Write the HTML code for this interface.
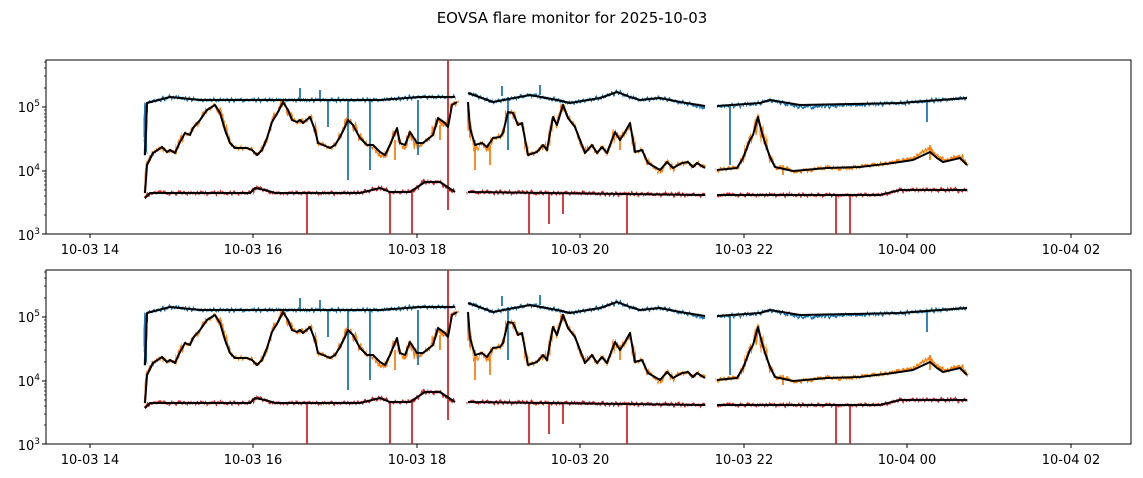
<!DOCTYPE html>
<html><head><style>body{margin:0;background:#fff}svg{display:block}</style></head><body>
<svg width="1143" height="478" xmlns="http://www.w3.org/2000/svg" font-family="DejaVu Sans, Liberation Sans, sans-serif">
<defs>
<filter id="jit" x="-5%" y="-20%" width="110%" height="140%">
<feTurbulence type="fractalNoise" baseFrequency="0.45 0.02" numOctaves="2" seed="3" result="t"/>
<feDisplacementMap in="SourceGraphic" in2="t" scale="8" xChannelSelector="B" yChannelSelector="R"/>
</filter>
<g id="panel">
<rect x="46" y="60" width="1085" height="174" fill="none" stroke="#000" stroke-width="1"/>
<g fill="none" stroke-linejoin="round">
<g filter="url(#jit)" stroke-width="2.6">
<polyline stroke="#1f77b4" points="145,155 147,103 170,97 200,100 300,100 380,100 420,97 455,97"/>
<polyline stroke="#1f77b4" points="468,93 493,102 530,95 557,100 570,103 600,98 617,92 630,97 640,100 660,98 680,102 705,108"/>
<polyline stroke="#1f77b4" points="717,107 760,103 770,100 800,107 900,103 967,98"/>
<polyline stroke="#ff7f0e" points="145,193 147,165 153,153 162,147 167,152 170,150 175,153 180,142 185,133 190,135 193,128 200,120 207,110 215,105 220,113 225,130 230,143 235,148 240,148 247,148 252,150 257,155 262,150 267,138 272,122 278,112 283,102 288,110 292,120 297,122 300,120 303,123 310,117 315,130 318,143 323,145 330,148 335,145 340,137 345,127 348,120 353,125 360,138 367,145 373,148 380,155 385,157 390,145 397,128 400,143 405,148 410,132 417,148 423,143 433,135 438,118 445,127 448,127 452,105 457,102"/>
<polyline stroke="#ff7f0e" points="468,102 470,128 475,150 482,143 487,150 493,138 500,137 503,133 508,112 513,113 518,125 522,123 528,155 537,152 543,145 547,150 553,117 557,125 563,105 568,118 575,127 585,153 592,145 597,153 602,147 607,153 615,132 620,140 625,132 630,123 635,152 642,150 648,163 660,172 667,162 673,170 682,163 688,162 693,167 697,163 705,168"/>
<polyline stroke="#ff7f0e" points="717,170 737,168 743,158 750,140 753,135 758,117 762,133 765,143 770,157 775,167 793,171 827,168 860,167 893,162 913,158 930,148 937,156 943,160 960,156 967,165"/>
<polyline stroke="#d62728" points="145,198 150,193 250,193 255,188 265,190 275,193 360,193 380,188 390,192 410,192 425,182 440,182 455,192"/>
<polyline stroke="#d62728" points="468,192 705,195"/>
<polyline stroke="#d62728" points="717,195 880,195 900,190 967,190"/>
</g>
<g stroke="#1f77b4" stroke-width="1.8"><path d="M328,100V127M348,100V180M370,100V170M418,100V155M508,97V150M730,105V165M927,102V122M300,100V88M320,99V90M540,95V85M502,96V86"/></g>
<g stroke="#ff7f0e" stroke-width="1.8"><path d="M395,140V160M440,125V140M475,140V170M490,145V165M620,135V150M783,165V175M930,145V160"/></g>
<g stroke="#d62728" stroke-width="1.8"><path d="M307,193V234M390,192V234M412,192V234M529,194V234M549,194V224M563,194V214M627,195V234M836,195V234M850,195V234M448,60V210"/></g>
<g stroke="#000" stroke-width="2">
<polyline points="145,155 147,103 170,97 200,100 300,100 380,100 420,97 455,97"/>
<polyline points="468,93 493,102 530,95 557,100 570,103 600,98 617,92 630,97 640,100 660,98 680,102 705,106"/>
<polyline points="717,106 760,103 770,100 800,105 900,103 967,98"/>
<polyline points="145,193 147,165 153,153 162,147 167,152 170,150 175,153 180,142 185,133 190,135 193,128 200,120 207,110 215,105 220,113 225,130 230,143 235,148 240,148 247,148 252,150 257,155 262,150 267,138 272,122 278,112 283,102 288,110 292,120 297,122 300,120 303,123 310,117 315,130 318,143 323,145 330,148 335,145 340,137 345,127 348,120 353,125 360,138 367,145 373,145 380,152 385,155 390,145 397,128 400,143 405,145 410,132 417,143 423,143 433,135 438,118 445,123 448,127 452,105 457,102"/>
<polyline points="468,102 470,128 475,145 482,143 487,147 493,138 500,137 503,133 508,112 513,113 518,125 522,123 528,155 537,152 543,145 547,150 553,117 557,125 563,105 568,118 575,127 585,153 592,145 597,153 602,147 607,153 615,132 620,140 625,132 630,123 635,152 642,150 648,163 660,170 667,162 673,168 682,163 688,162 693,167 697,163 705,168"/>
<polyline points="717,170 737,168 743,158 750,140 753,135 758,117 762,133 765,143 770,157 775,167 793,171 827,168 860,167 893,163 913,160 930,152 937,158 943,162 960,158 967,165"/>
<polyline points="145,198 150,193 250,193 255,188 265,190 275,193 360,193 380,188 390,192 410,192 425,182 440,182 455,192"/>
<polyline points="468,192 705,195"/>
<polyline points="717,195 880,195 900,190 967,190"/>
</g>
</g>
<g stroke="#000" stroke-width="1"><path d="M46,107H42M46,171H42M46,234H42M90,234V238M253,234V238M417,234V238M580,234V238M744,234V238M907,234V238M1071,234V238"/>
<path stroke-width="0.7" d="M46,215H44M46,204H44M46,196H44M46,190H44M46,185H44M46,181H44M46,177H44M46,174H44M46,152H44M46,140H44M46,132H44M46,126H44M46,121H44M46,117H44M46,114H44M46,110H44M46,88H44M46,76H44M46,68H44M46,62H44"/></g>
<g font-size="13" fill="#000" text-anchor="end"><text x="40" y="112">10<tspan font-size="9" dy="-6">5</tspan></text><text x="40" y="176">10<tspan font-size="9" dy="-6">4</tspan></text><text x="40" y="240">10<tspan font-size="9" dy="-6">3</tspan></text></g>
<g font-size="13" fill="#000" text-anchor="middle"><text x="90" y="254">10-03 14</text><text x="253" y="254">10-03 16</text><text x="417" y="254">10-03 18</text><text x="580" y="254">10-03 20</text><text x="744" y="254">10-03 22</text><text x="907" y="254">10-04 00</text><text x="1071" y="254">10-04 02</text></g>
</g>
</defs>
<text x="572" y="23" font-size="15" text-anchor="middle">EOVSA flare monitor for 2025-10-03</text>
<use href="#panel"/>
<use href="#panel" transform="translate(0,210)"/>
</svg>
</body></html>
